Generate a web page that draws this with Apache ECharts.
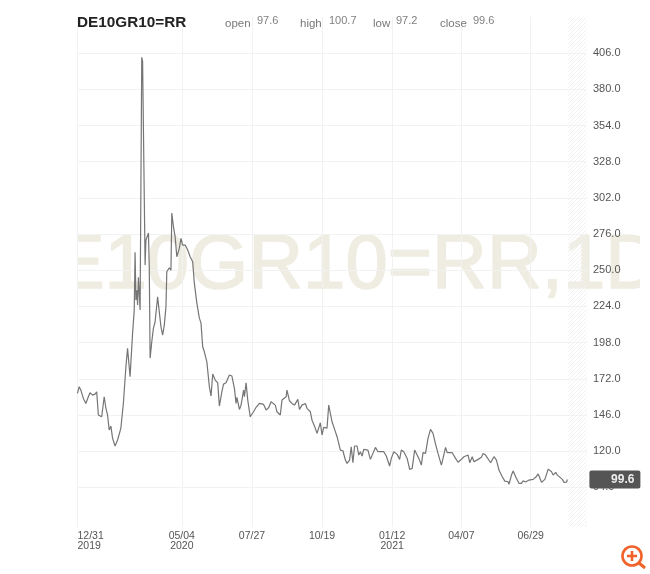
<!DOCTYPE html>
<html>
<head>
<meta charset="utf-8">
<style>html,body{margin:0;padding:0;background:#fff}#c{width:650px;height:574px;filter:blur(0.4px)}</style>
<script src="https://cdn.jsdelivr.net/npm/echarts@6/dist/echarts.min.js"></script>
</head>
<body>
<div id="c"></div>
<script>
// x is days after 2019-12-31
const dayOffsets = [0,2,4,7,10,13,15,18,21,23,25,29,32,34,36,38,40,42,45,48,50,52,55,58,60,63,66,68,69,70,71,72,73,75,77,78,81,82,84,85,86,87,89,91,93,96,98,100,102,104,106,107,110,112,113,115,117,119,122,124,126,129,132,135,138,140,143,146,148,150,152,155,158,160,162,165,168,170,173,175,178,180,182,185,188,190,191,194,196,199,200,202,204,207,209,211,214,215,218,220,223,226,229,232,234,237,239,243,245,247,250,251,254,257,260,264,266,269,273,275,279,281,285,287,291,293,295,299,301,303,305,307,309,311,315,318,321,323,326,328,330,332,335,337,339,341,343,348,351,354,357,360,367,370,374,376,379,383,386,388,391,395,398,401,404,406,409,412,414,417,420,423,426,429,432,436,438,441,443,449,453,456,459,463,468,470,473,475,480,484,486,489,491,495,499,502,505,509,512,516,517,520,522,525,529,532,534,537,541,543,546,549,552,556,560,564,568,570,573,575,577,581,583,586,587];
const values = [161.5,166.3,163.9,157.9,154.3,159.1,162,160.3,161,162.7,146,144.7,159.1,151,146,135.2,138,129.4,123.7,128,129.4,136.6,154.6,180.6,193.9,173.5,204.8,221.4,263,228.6,235.7,225,245,221.4,403,400,253.7,271.7,273.1,276.7,252.5,186.9,198.6,208.4,213,230.9,230.9,209.4,203.4,210.6,223.7,248.9,251.8,250.1,291.1,281.2,274,259.7,265.7,272.9,268.1,268.1,264.5,259.7,256.1,240.8,226.4,215.6,212,195,191.4,184.2,166.3,159.6,175.4,171.1,169.1,152.4,162.7,168.2,169.1,168.2,174.7,174,165.1,154.3,158.7,150,153.1,163.9,159.1,169.1,156.7,144.7,143.6,148.3,151.5,151.2,154.3,153.1,153.6,149.5,151.2,155.5,156.7,153.1,148.3,146,156.7,157.9,159.1,163.9,156.2,154.3,153.1,157.2,150,153.1,154.3,150.8,148.3,142.3,136.4,132.8,140.4,131.6,137.1,136.6,153.1,153.1,141.1,140.2,134,130.4,120.8,120.3,113.6,111.2,113.6,123.2,111.7,123.7,123.7,117.2,119.6,116.5,121.3,120.8,114.1,118.4,122.7,119.6,119.6,116.5,109.3,114.8,119.6,117.7,114.1,120.8,119.6,114.8,106.9,107.6,120.8,121.3,114.8,110,118.9,118.4,129.2,135.7,132.8,125.1,118.4,110,114.8,122.7,118.9,118.9,114.8,112,113.6,116,117.2,111.7,116,112.4,114.1,115.6,118.4,117.2,118.4,111.7,116,113.6,106.4,101.6,98.5,98,96.2,102.8,105.7,101.6,96.9,96.9,98.7,97.8,99.2,100.5,99.7,101.2,103.6,97.6,99.7,107.1,105.2,102.8,104.8,102.8,102.8,99.7,97.6,97.8,99.6];
const xTickDays = [0,125,209,293,377,460,543];
const xTickLabels = ['12/31\n2019','05/04\n2020','07/27','10/19','01/12\n2021','04/07','06/29'];
const yTicks = [94,120,146,172,198,224,250,276,302,328,354,380,406];
const ohlcNames = ['open','high','low','close'];
const ohlcValues = ['97.6','100.7','97.2','99.6'];
const symbolName = 'DE10GR10=RR';
const watermark = 'DE10GR10=RR,1D';

const lineData = dayOffsets.map((d, i) => [d, values[i]]);

const pat = document.createElement('canvas');
pat.width = 4; pat.height = 4;
const g = pat.getContext('2d');
g.strokeStyle = '#f1f1f1'; g.lineWidth = 1;
g.beginPath(); g.moveTo(0, 4); g.lineTo(4, 0); g.moveTo(-1, 1); g.lineTo(1, -1); g.moveTo(3, 5); g.lineTo(5, 3); g.stroke();

const font = 'Liberation Sans';
const ohlcPos = [[225, 257], [300, 329], [373, 396], [440, 473]];
const headerTexts = [];
ohlcNames.forEach((n, i) => {
  headerTexts.push({type:'text', x:ohlcPos[i][0], y:24, z:10, style:{text:n, fill:'#777', fontFamily:font, fontSize:11.5, textVerticalAlign:'middle'}});
  headerTexts.push({type:'text', x:ohlcPos[i][1], y:21, z:10, style:{text:ohlcValues[i], fill:'#808080', fontFamily:font, fontSize:11, textVerticalAlign:'middle'}});
});

const chart = echarts.init(document.getElementById('c'), null, {renderer:'canvas', width:650, height:574});
chart.setOption({
  animation:false,
  backgroundColor:'#fff',
  grid:{left:77.5, right:63, top:17, bottom:47, containLabel:false},
  xAxis:{
    type:'value', min:0, max:610.5,
    axisLine:{show:false},
    axisTick:{show:false, customValues:xTickDays},
    splitLine:{show:true, lineStyle:{color:'#f0f3f1', width:1}},
    axisLabel:{
      show:true, customValues:xTickDays, alignMinLabel:'left', hideOverlap:false,
      color:'#555', fontFamily:font, fontSize:10.5, lineHeight:10, margin:4,
      formatter:v => { const i = xTickDays.indexOf(+v); return i >= 0 ? xTickLabels[i] : ''; }
    }
  },
  yAxis:{
    type:'value', position:'right', min:65.5, max:432, scale:true,
    axisLine:{show:false},
    axisTick:{show:false, customValues:yTicks},
    splitLine:{show:true, lineStyle:{color:'#f0f3f1', width:1}},
    axisLabel:{show:true, customValues:yTicks, color:'#555', fontFamily:font, fontSize:11, margin:6, formatter:v => (+v).toFixed(1)}
  },
  series:[{
    type:'line', data:lineData, showSymbol:false, smooth:false, z:5,
    lineStyle:{color:'#757575', width:1.2},
    endLabel:{
      show:true, formatter:() => values[values.length - 1].toFixed(1),
      distance:73, color:'#eee', backgroundColor:'#555', fontFamily:font, fontSize:12, fontWeight:'bold',
      width:45, align:'right', padding:[3,6,3,0], borderRadius:2
    },
    markArea:{
      silent:true, z:1,
      itemStyle:{color:{image:pat, repeat:'repeat'}},
      data:[[{xAxis:587.8},{xAxis:610.5}]]
    }
  }],
  graphic:{elements:[
    {type:'text', x:-1, y:267, z:0, silent:true, style:{text:watermark, fill:'#efece2', stroke:'#efece2', lineWidth:1.5, fontFamily:font, fontSize:76, textVerticalAlign:'middle'}},
    {type:'rect', shape:{x:0,y:225,width:77,height:80}, z:0, silent:true, style:{fill:'#fff'}},
    {type:'rect', shape:{x:640,y:225,width:10,height:80}, z:0, silent:true, style:{fill:'#fff'}},
    {type:'text', x:77, y:23, z:10, style:{text:symbolName, fill:'#222', fontFamily:font, fontSize:15.3, fontWeight:'bold', textVerticalAlign:'middle'}},
    ...headerTexts,
    {type:'circle', shape:{cx:632,cy:556,r:9.5}, z:10, style:{fill:'#fff', stroke:'#f2622b', lineWidth:2.6}},
    {type:'line', shape:{x1:627,y1:556,x2:637,y2:556}, z:10, style:{stroke:'#f2622b', lineWidth:2.6}},
    {type:'line', shape:{x1:632,y1:551,x2:632,y2:561}, z:10, style:{stroke:'#f2622b', lineWidth:2.6}},
    {type:'line', shape:{x1:639,y1:563,x2:645,y2:568}, z:10, style:{stroke:'#f2622b', lineWidth:3}}
  ]}
});
</script>
</body>
</html>
